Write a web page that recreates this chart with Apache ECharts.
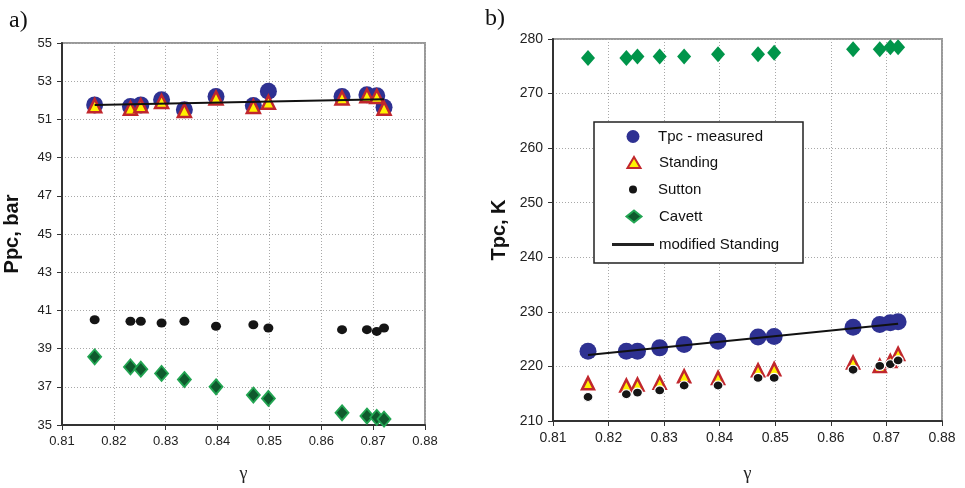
<!DOCTYPE html>
<html>
<head>
<meta charset="utf-8">
<script src="https://cdn.jsdelivr.net/npm/echarts@6/dist/echarts.min.js"></script>
<style>html,body{margin:0;padding:0;background:#fff}#c{width:965px;height:488px}</style>
</head>
<body>
<div id="c"></div>
<script>
// ---- data ----
const gamma = [0.8163, 0.8232, 0.8252, 0.8292, 0.8336, 0.8397, 0.8469, 0.8498, 0.8640, 0.8688, 0.8707, 0.8721];

// panel a) pseudo-critical pressure, bar
const ppcMeasured = [51.76, 51.67, 51.76, 52.03, 51.50, 52.20, 51.73, 52.47, 52.20, 52.29, 52.24, 51.64];
const ppcStanding = [51.72, 51.58, 51.71, 51.94, 51.46, 52.12, 51.67, 51.90, 52.12, 52.24, 52.20, 51.58];
const ppcSutton   = [40.51, 40.43, 40.43, 40.34, 40.43, 40.17, 40.25, 40.08, 39.99, 39.99, 39.90, 40.08];
const ppcCavett   = [38.57, 38.04, 37.92, 37.70, 37.38, 37.00, 36.57, 36.39, 35.64, 35.47, 35.40, 35.31];
const ppcModGamma = [0.8163, 0.8721];
const ppcModified = [51.76, 52.05];

// panel b) pseudo-critical temperature, K
const tpcMeasured = [222.8, 222.8, 222.8, 223.4, 224.0, 224.6, 225.4, 225.5, 227.2, 227.7, 228.0, 228.2];
const tpcStanding = [216.9, 216.5, 216.7, 217.0, 218.2, 217.9, 219.3, 219.5, 220.7, 220.1, 221.0, 222.3];
const tpcSutton   = [214.4, 214.9, 215.2, 215.6, 216.5, 216.5, 217.9, 217.9, 219.4, 220.1, 220.4, 221.1];
const tpcCavett   = [276.5, 276.5, 276.8, 276.8, 276.8, 277.2, 277.2, 277.5, 278.1, 278.1, 278.5, 278.5];
const tpcModGamma = [0.8163, 0.8721];
const tpcModified = [222.1, 227.8];

// axes
const xRange = [0.81, 0.88], xStep = 0.01;
const ppcRange = [35, 55], ppcStep = 2;
const tpcRange = [210, 280], tpcStep = 10;
const seriesNames = ['Tpc - measured', 'Standing', 'Sutton', 'Cavett', 'modified Standing'];
const panelLabels = ['a)', 'b)'];
const axisNames = ['γ', 'Ppc, bar', 'Tpc, K'];

// ---- build ----
const pairs = (xs, ys) => xs.map((x, i) => [x, ys[i]]);
const chart = echarts.init(document.getElementById('c'), null, {renderer: 'canvas'});

function xAxisCfg(grid, fs, gap) {
  return {
    gridIndex: grid, type: 'value', min: xRange[0], max: xRange[1], interval: xStep,
    axisLine: {show: true, onZero: false, lineStyle: {color: '#333', width: 2}},
    axisTick: {show: true, length: 5, lineStyle: {color: '#333', width: 1}},
    axisLabel: {fontFamily: 'Arial', fontSize: fs, color: '#222', margin: 10, formatter: v => v.toFixed(2)},
    splitLine: {show: true, lineStyle: {color: '#a8a8a8', width: 1, type: [1, 2]}},
    name: axisNames[0], nameLocation: 'middle', nameGap: gap,
    nameTextStyle: {fontFamily: 'Liberation Serif', fontSize: 18, color: '#222'}
  };
}
function yAxisCfg(grid, range, step, name, fs, gap) {
  return {
    gridIndex: grid, type: 'value', min: range[0], max: range[1], interval: step,
    axisLine: {show: true, onZero: false, lineStyle: {color: '#333', width: 2}},
    axisTick: {show: true, length: 5, lineStyle: {color: '#333', width: 1}},
    axisLabel: {fontFamily: 'Arial', fontSize: fs, color: '#222', margin: 10},
    splitLine: {show: true, lineStyle: {color: '#a8a8a8', width: 1, type: [1, 2]}},
    name: name, nameLocation: 'middle', nameGap: gap, nameRotate: 90,
    nameTextStyle: {fontFamily: 'Arial', fontSize: 20, fontWeight: 'bold', color: '#111'}
  };
}
function legendItem(name, icon, w, h, cx, cy, textX, style) {
  const left = cx - w / 2;
  const d = {name: name, icon: icon};
  if (style) d.itemStyle = style;
  return {
    data: [d], orient: 'vertical', left: left, top: cy - 9,
    itemWidth: w, itemHeight: h, padding: 0, selectedMode: false,
    textStyle: {fontFamily: 'Arial', fontSize: 15, color: '#111',
      padding: [0, 0, 6, Math.max(0, textX - left - w - 5)]}
  };
}

const common = {animation: false, emphasis: {disabled: true}, silent: true};
const series = [];
const panels = [
  {m: ppcMeasured, s: ppcStanding, su: ppcSutton, c: ppcCavett, mg: ppcModGamma, mv: ppcModified,
   cav: {color: '#0f5a2d', borderColor: '#22a552', borderWidth: 1.8, opacity: 1}, cavS: [13, 15],
   suB: 0, circ: 17, tri: 13, suS: [10, 9]},
  {m: tpcMeasured, s: tpcStanding, su: tpcSutton, c: tpcCavett, mg: tpcModGamma, mv: tpcModified,
   cav: {color: '#00954a', opacity: 1}, cavS: [14, 16],
   suB: 1.2, circ: 17, tri: 12, suS: [10, 9]}
];
panels.forEach((p, k) => {
  series.push(Object.assign({type: 'scatter', name: seriesNames[0], xAxisIndex: k, yAxisIndex: k,
    data: pairs(gamma, p.m), symbol: 'circle', symbolSize: p.circ, z: 2,
    itemStyle: {color: '#2e3192', opacity: 1}}, common));
  series.push(Object.assign({type: 'scatter', name: seriesNames[1], xAxisIndex: k, yAxisIndex: k,
    data: pairs(gamma, p.s), symbol: 'triangle', symbolSize: p.tri, z: 3,
    itemStyle: {color: '#fff200', borderColor: '#c1272d', borderWidth: 2.5, opacity: 1}}, common));
  series.push(Object.assign({type: 'scatter', name: seriesNames[2], xAxisIndex: k, yAxisIndex: k,
    data: pairs(gamma, p.su), symbol: 'circle', symbolSize: p.suS, z: 3,
    itemStyle: {color: '#151515', borderColor: '#fff', borderWidth: p.suB, opacity: 1}}, common));
  series.push(Object.assign({type: 'scatter', name: seriesNames[3], xAxisIndex: k, yAxisIndex: k,
    data: pairs(gamma, p.c), symbol: 'diamond', symbolSize: p.cavS, z: 3,
    itemStyle: p.cav}, common));
  series.push(Object.assign({type: 'line', name: seriesNames[4], xAxisIndex: k, yAxisIndex: k,
    data: pairs(p.mg, p.mv), symbol: 'none', z: 4,
    itemStyle: {color: '#111'},
    lineStyle: {color: '#111', width: 2}}, common));
});

const option = {
  backgroundColor: '#fff',
  animation: false,
  title: [
    {text: panelLabels[0], left: 9, top: 9, padding: 0,
     textStyle: {fontFamily: 'Liberation Serif', fontSize: 24, fontWeight: 'normal', color: '#111'}},
    {text: panelLabels[1], left: 485, top: 7, padding: 0,
     textStyle: {fontFamily: 'Liberation Serif', fontSize: 24, fontWeight: 'normal', color: '#111'}}
  ],
  grid: [
    {left: 62, top: 43, width: 363, height: 383, show: true, borderColor: '#999', borderWidth: 2},
    {left: 553, top: 39, width: 389, height: 386, show: true, borderColor: '#999', borderWidth: 2}
  ],
  xAxis: [xAxisCfg(0, 13, 40), xAxisCfg(1, 14, 44)],
  yAxis: [yAxisCfg(0, ppcRange, ppcStep, axisNames[1], 13, 40), yAxisCfg(1, tpcRange, tpcStep, axisNames[2], 14, 44)],
  graphic: [
    {type: 'rect', z: 3, shape: {x: 594, y: 122, width: 209, height: 141},
     style: {fill: '#fff', stroke: '#222', lineWidth: 1.5}}
  ],
  legend: [
    legendItem(seriesNames[0], 'circle', 13, 13, 633, 138, 658),
    legendItem(seriesNames[1], 'triangle', 13, 11, 633, 164, 658),
    legendItem(seriesNames[2], 'circle', 8, 8, 633, 191, 658),
    legendItem(seriesNames[3], 'diamond', 15, 12, 633, 218, 658),
    legendItem(seriesNames[4], 'rect', 42, 3, 633, 246, 658, {color: '#222', borderWidth: 0})
  ],
  series: series
};
chart.setOption(option);
</script>
</body>
</html>
